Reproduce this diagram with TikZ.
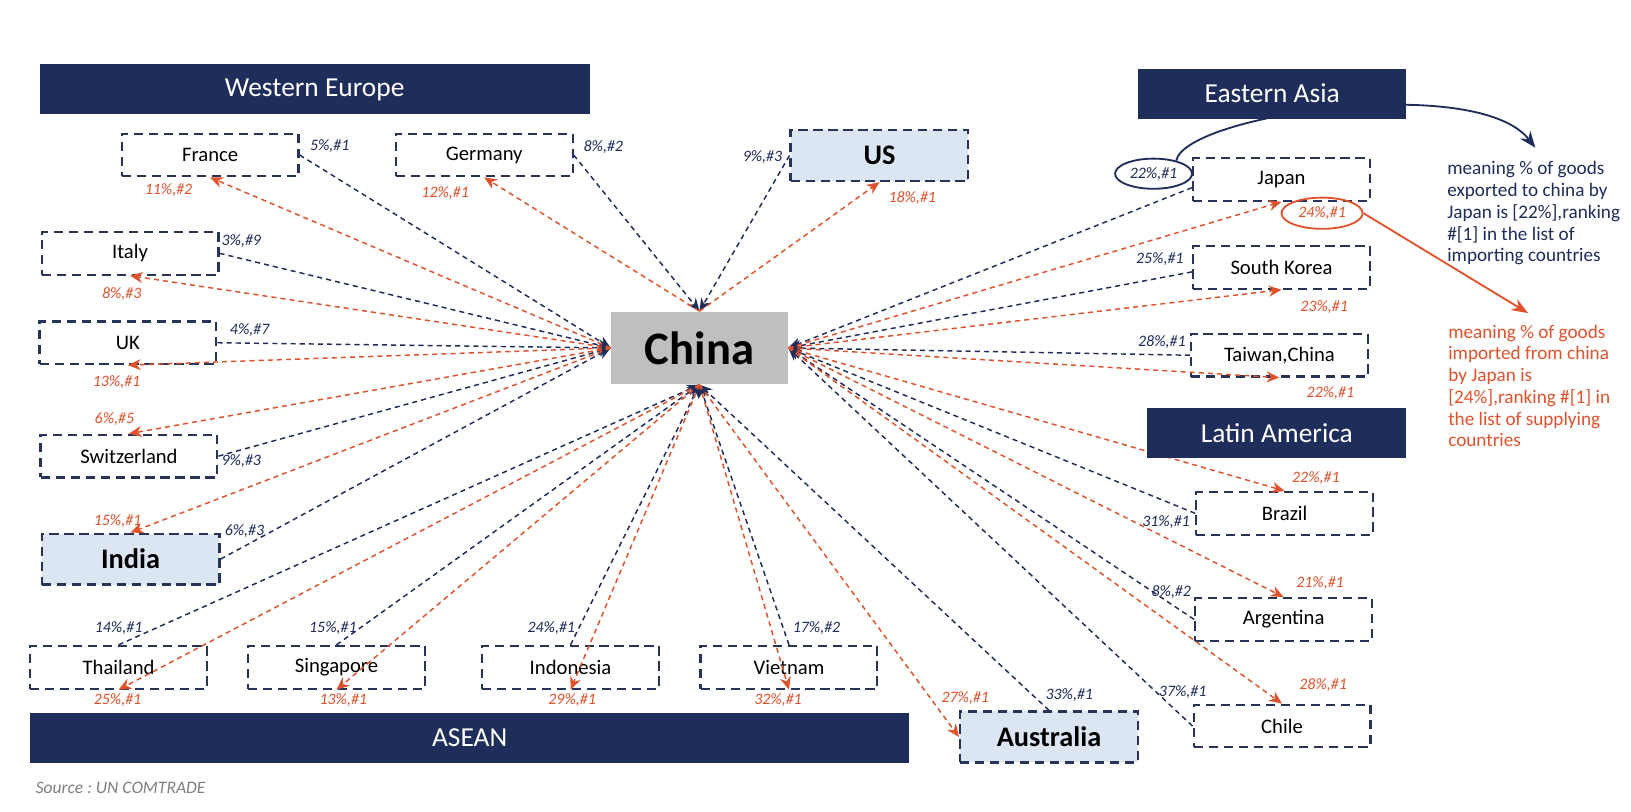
\documentclass[tikz,border=0pt]{standalone}
\usepackage{fontspec}
\setmainfont{Carlito}
\usetikzlibrary{arrows.meta,shapes.geometric}

\definecolor{navy}{HTML}{1F2D5B}
\definecolor{boxline}{HTML}{26345A}
\definecolor{impred}{HTML}{E0522C}
\definecolor{keyfill}{HTML}{DCE6F2}
\definecolor{chinagray}{HTML}{BFBFBF}
\definecolor{srcgray}{HTML}{7F7F7F}

% share and rank, printed as 5%,#1
\newcommand{\rk}[2]{#1\%,\##2}

\tikzset{
    cbox/.style={draw=boxline, line width=1.2pt, dash pattern=on 5pt off 3.2pt,
        minimum width=3.4cm, minimum height=0.82cm, inner sep=0pt,
        font=\fontsize{11.3}{13}\selectfont},
    keybox/.style={cbox, fill=keyfill, minimum width=3.42cm, minimum height=0.98cm,
        font=\fontsize{15.5}{18}\selectfont\bfseries},
    banner/.style={fill=navy, text=white, inner sep=0pt, minimum height=0.96cm,
        font=\fontsize{15}{18}\selectfont},
    expline/.style={->, draw=navy, line width=0.8pt, dash pattern=on 2.8pt off 2.2pt},
    impline/.style={->, draw=impred, line width=0.8pt, dash pattern=on 2.8pt off 2.2pt},
    explab/.style={text=navy, inner sep=1pt, font=\fontsize{8.7}{10}\selectfont\itshape},
    implab/.style={explab, text=impred},
    ring/.style={ellipse, draw, line width=1pt, inner sep=0pt},
    noteline/.style={-{Stealth[length=9pt,width=7pt]}, line width=1pt},
    note/.style={align=left, anchor=north west, inner sep=0pt,
        font=\fontsize{10.5}{11.9}\selectfont},
}

\begin{document}
\begin{tikzpicture}[x=0.02cm, y=-0.02cm, >={Stealth[length=7pt,width=6pt]}]

        \fill[white] (0,0) rectangle (1568,780);
        \useasboundingbox (0,0) rectangle (1568,780);

        % ====================
        % 1. Partner countries
        % ====================
        \foreach \nm/\x/\y/\txt in {fr/202/149/France, de/465.5/149/Germany,
                it/125/243.5/Italy, uk/123/329.5/UK, sw/124/438.5/Switzerland,
                th/114/641.5/Thailand, sg/323.5/641.5/Singapore,
                id/548.5/641.5/Indonesia, vn/758.5/641.5/Vietnam,
                jp/1232/172.5/Japan, kr/1232/257/South Korea,
                tw/1230/341.5/{Taiwan,China}, br/1235/493.5/Brazil,
                ar/1234/595.5/Argentina, cl/1232.5/698/Chile} {
            \node[cbox] (\nm) at (\x,\y) {\txt};
        }
        % large partners
        \node[keybox] (us) at (845.5,149.5) {US};
        \node[keybox] (ind) at (125.5,537.5) {India};
        \node[keybox] (au) at (1008.5,708.5) {Australia};

        \node[fill=chinagray, minimum width=3.4cm, minimum height=1.4cm,
            font=\fontsize{25.5}{30}\selectfont\bfseries] (cn) at (672.5,334.5) {China};

        \coordinate (jpW) at ([yshift=-4.5pt]jp.west);
        \coordinate (krW) at ([yshift=-2.5pt]kr.west);

        % ====================
        % 2. Shares (blue = exports to China, red = imports from China)
        % ====================
        \foreach \nm/\x/\y/\p/\r in {efr/317/140/5/1, ede/580/141/8/2, eus/733/151/9/3,
                eit/232/232/3/9, euk/240/317/4/7, esw/232/443/9/3, eind/235/511/6/3,
                eth/114/604/14/1, esg/320/604/15/1, eid/530/604/24/1, evn/785/604/17/2,
                eau/1028/668/33/1, ekr/1115/249/25/1, etw/1117/329/28/1,
                ebr/1121/502/31/1, ear/1126/569/8/2, ecl/1137/665/37/1} {
            \node[explab] (\nm) at (\x,\y) {\rk{\p}{\r}};
        }
        \foreach \nm/\x/\y/\p/\r in {ifr/162/183/11/2, ide/428/186/12/1, ius/877/190/18/1,
                iit/117/283/8/3, iuk/112/367/13/1, isw/110/403/6/5, iind/113/501/15/1,
                ith/113/673/25/1, isg/330/673/13/1, iid/550/673/29/1, ivn/748/673/32/1,
                iau/928/671/27/1, ikr/1273/295/23/1, itw/1279/378/22/1,
                ibr/1265/460/22/1, iar/1269/561/21/1, icl/1272/659/28/1} {
            \node[implab] (\nm) at (\x,\y) {\rk{\p}{\r}};
        }
        % the two circled values of Japan
        \node[explab, ring, draw=navy, minimum width=1.48cm, minimum height=0.58cm]
            (ejp) at (1109,167) {\rk{22}{1}};
        \node[implab, ring, draw=impred, minimum width=1.56cm, minimum height=0.6cm]
            (ijp) at (1271,205) {\rk{24}{1}};

        % ====================
        % 3. Flows
        % ====================
        \foreach \a/\b in {fr.east/cn.west, it.east/cn.west, uk.east/cn.west,
                sw.east/cn.west, ind.east/cn.west, de.east/cn.north, us.west/cn.north,
                th.north/cn.south, sg.north/cn.south, id.north/cn.south,
                vn.north/cn.south, au.north/cn.south, jpW/cn.east, krW/cn.east,
                tw.west/cn.east, br.west/cn.east, ar.west/cn.east, cl.west/cn.east} {
            \draw[expline] (\a) -- (\b);
        }
        \foreach \a/\b in {cn.west/fr.south, cn.west/it.south, cn.west/uk.south,
                cn.west/sw.north, cn.west/ind.north, cn.north/de.south, cn.north/us.south,
                cn.south/th.south, cn.south/sg.south, cn.south/id.south,
                cn.south/vn.south, cn.south/au.west, cn.east/jp.south, cn.east/kr.south,
                cn.east/tw.south, cn.east/br.north, cn.east/ar.north, cn.east/cl.north} {
            \draw[impline] (\a) -- (\b);
        }

        % ====================
        % 4. Reading key
        % ====================
        \node[note, text=navy] (keyE) at (1391,155)
            {meaning \% of goods\\exported to china by\\Japan is [22\%],ranking\\{}%
             \#[1] in the list of\\importing countries};
        \node[note, text=impred] (keyI) at (1392,312)
            {meaning \% of goods\\imported from china\\by Japan is\\{}%
             [24\%],ranking \#[1] in\\the list of supplying\\countries};

        \coordinate (tipE) at (1476,142);
        \coordinate (tipI) at (1469,301);
        \draw[noteline, navy] (ejp.30) .. controls (1140,110) and (1420,70) .. (tipE);
        \draw[noteline, impred] (ijp.east) -- (tipI);

        % ====================
        % 5. Regions
        % ====================
        \node[banner, minimum width=10.58cm] (weu) at (302.5,86) {Western Europe};
        \node[banner, minimum width=5.16cm] (eas) at (1223,90) {Eastern Asia};
        \node[banner, minimum width=4.98cm] (lat) at (1227.5,416.5) {Latin America};
        \node[banner, minimum width=16.9cm] (asean) at (451.5,709.5) {ASEAN};

        \node[text=srcgray, font=\fontsize{9.6}{11}\selectfont\itshape\frenchspacing]
            (src) at (116,757) {Source : UN COMTRADE};

\end{tikzpicture}
\end{document}
